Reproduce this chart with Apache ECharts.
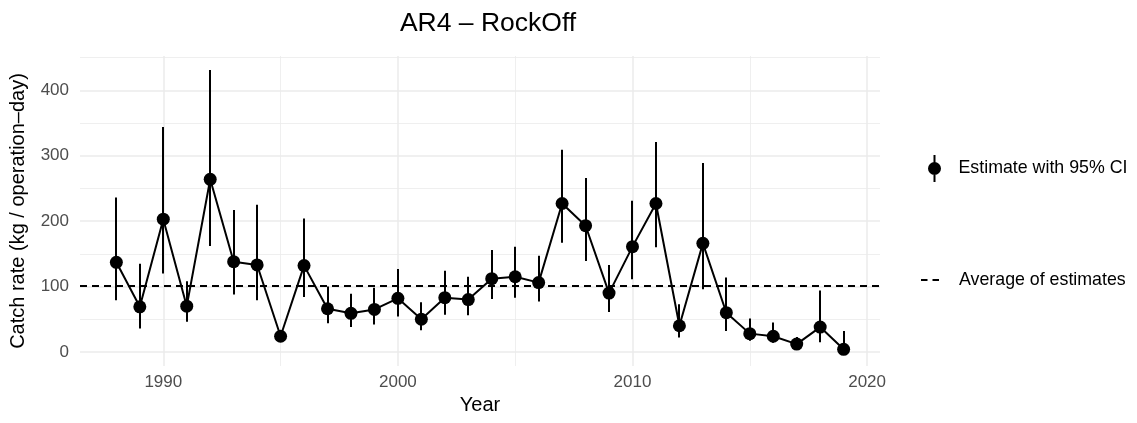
<!DOCTYPE html>
<html>
<head>
<meta charset="utf-8">
<script src="https://cdn.jsdelivr.net/npm/echarts@6/dist/echarts.min.js"></script>
<style>
  html, body { margin: 0; padding: 0; background: #fff; }
  #chart { width: 1137px; height: 423px; }
</style>
</head>
<body>
<div id="chart"></div>
<script>
// ---- data ----
const years = [1988, 1989, 1990, 1991, 1992, 1993, 1994, 1995, 1996, 1997, 1998, 1999,
               2000, 2001, 2002, 2003, 2004, 2005, 2006, 2007, 2008, 2009, 2010, 2011,
               2012, 2013, 2014, 2015, 2016, 2017, 2018, 2019];
const estimate = [137, 69, 203, 70, 264, 138, 133, 24, 132, 66, 59, 65,
                  82, 50, 83, 80, 112, 115, 106, 227, 193, 90, 161, 227,
                  40, 166, 60, 28, 24, 12, 38, 4];
const ciLow = [79, 36, 120, 46, 162, 88, 79, 16, 84, 44, 38, 42,
               54, 33, 57, 56, 81, 83, 77, 167, 139, 61, 111, 160,
               22, 96, 32, 17, 14, 5, 15, 0.5];
const ciHigh = [236, 135, 344, 108, 431, 217, 225, 32, 204, 100, 89, 98,
                127, 76, 124, 115, 156, 161, 147, 309, 266, 133, 231, 321,
                73, 289, 114, 51, 45, 23, 94, 32];
const averageOfEstimates = 101;
const yMajorTicks = [0, 100, 200, 300, 400];
const yMinorTicks = [50, 150, 250, 350, 450];
const xMajorTicks = [1990, 2000, 2010, 2020];
const xMinorTicks = [1995, 2005, 2015];
const xRange = [1986.45, 2020.55];
const yRange = [-21.5, 452.5];

const FONT = '"Liberation Sans", Arial, Helvetica, sans-serif';
const GRID_COLOR = '#EBEBEB';

const estimateIcon = 'path://M6,0H8V27H6Z M13.5,13.5A6.5,6.5 0 1 1 0.5,13.5A6.5,6.5 0 1 1 13.5,13.5Z';
const dashIcon = 'path://M0,0H6.5V2H0Z M11.5,0H18V2H11.5Z';

const gridLines = []
  .concat(yMinorTicks.map(v => ({ yAxis: v, lineStyle: { color: GRID_COLOR, width: 0.8, type: 'solid' } })))
  .concat(xMinorTicks.map(v => ({ xAxis: v, lineStyle: { color: GRID_COLOR, width: 0.8, type: 'solid' } })))
  .concat(yMajorTicks.map(v => ({ yAxis: v, lineStyle: { color: GRID_COLOR, width: 1.5, type: 'solid' } })))
  .concat(xMajorTicks.map(v => ({ xAxis: v, lineStyle: { color: GRID_COLOR, width: 1.5, type: 'solid' } })));

const chart = echarts.init(document.getElementById('chart'), null, { renderer: 'canvas' });
chart.setOption({
  animation: false,
  backgroundColor: '#fff',
  textStyle: { fontFamily: FONT },
  title: {
    text: 'AR4 – RockOff',
    left: 483,
    textAlign: 'center',
    top: 5,
    textStyle: { fontFamily: FONT, fontSize: 26.5, fontWeight: 'normal', color: '#000' }
  },
  grid: { left: 78, right: 257, top: 56, bottom: 57, containLabel: false },
  legend: [
    {
      data: [{ name: 'Estimate with 95% CI', icon: estimateIcon }],
      orient: 'vertical',
      left: 923, top: 150,
      itemWidth: 14, itemHeight: 27,
      selectedMode: false,
      itemStyle: { color: '#000', borderWidth: 0 },
      textStyle: { fontFamily: FONT, fontSize: 17.8, color: '#000', padding: [0, 0, 0, 12] }
    },
    {
      data: [{ name: 'Average of estimates', icon: dashIcon }],
      orient: 'vertical',
      left: 916, top: 266,
      itemWidth: 18, itemHeight: 2,
      selectedMode: false,
      itemStyle: { color: '#000', borderWidth: 0 },
      textStyle: { fontFamily: FONT, fontSize: 17.8, color: '#000', padding: [0, 0, 0, 15] }
    }
  ],
  xAxis: {
    type: 'value',
    min: xRange[0], max: xRange[1],
    name: 'Year',
    nameLocation: 'middle',
    nameGap: 28,
    nameTextStyle: { fontFamily: FONT, fontSize: 20, color: '#000' },
    axisLine: { show: false },
    axisTick: { show: false },
    splitLine: { show: false },
    axisLabel: {
      customValues: xMajorTicks,
      margin: 8,
      fontFamily: FONT, fontSize: 17, color: '#4D4D4D',
      formatter: v => String(v)
    }
  },
  yAxis: {
    type: 'value',
    min: yRange[0], max: yRange[1],
    name: 'Catch rate (kg / operation–day)',
    nameLocation: 'middle',
    nameGap: 52,
    nameTextStyle: { fontFamily: FONT, fontSize: 20, color: '#000' },
    axisLine: { show: false },
    axisTick: { show: false },
    splitLine: { show: false },
    axisLabel: {
      customValues: yMajorTicks,
      margin: 11,
      fontFamily: FONT, fontSize: 17, color: '#4D4D4D',
      formatter: v => String(v)
    }
  },
  series: [
    {
      type: 'line',
      data: [],
      silent: true,
      z: 0,
      markLine: {
        z: 0,
        silent: true,
        symbol: 'none',
        label: { show: false },
        emphasis: { disabled: true },
        data: gridLines
      }
    },
    {
      name: 'Average of estimates',
      type: 'line',
      data: [],
      color: '#000',
      z: 3,
      markLine: {
        z: 3,
        silent: true,
        symbol: 'none',
        label: { show: false },
        emphasis: { disabled: true },
        lineStyle: { color: '#000', width: 1.8, type: [7, 5] },
        data: [{ yAxis: averageOfEstimates }]
      }
    },
    {
      name: 'Estimate with 95% CI',
      type: 'custom',
      color: '#000',
      z: 4,
      clip: false,
      data: years.map((y, i) => [y, ciLow[i], ciHigh[i]]),
      encode: { x: 0, y: [1, 2] },
      renderItem: function (params, api) {
        const x = api.value(0);
        const p1 = api.coord([x, api.value(1)]);
        const p2 = api.coord([x, api.value(2)]);
        const px = Math.round(p1[0]);
        return {
          type: 'line',
          shape: { x1: px, y1: p1[1], x2: px, y2: p2[1] },
          style: { stroke: '#000', lineWidth: 2 }
        };
      }
    },
    {
      name: 'Estimate with 95% CI',
      type: 'line',
      color: '#000',
      z: 5,
      clip: false,
      data: years.map((y, i) => [y, estimate[i]]),
      symbol: 'circle',
      symbolSize: 13,
      showSymbol: true,
      itemStyle: { color: '#000' },
      lineStyle: { color: '#000', width: 2 }
    }
  ]
});
</script>
</body>
</html>
